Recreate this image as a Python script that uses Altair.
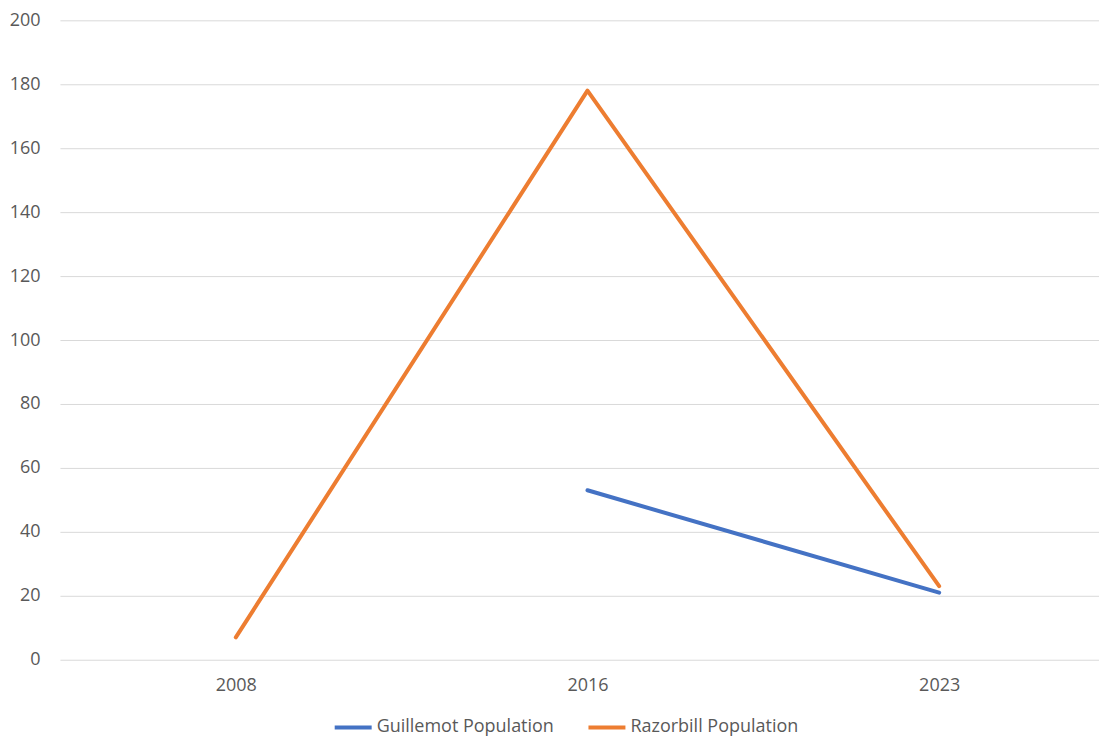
import altair as alt
import pandas as pd

years = ["2008", "2016", "2023"]
guillemot = [None, 53, 21]
razorbill = [7, 178, 23]
series_names = ["Guillemot Population", "Razorbill Population"]
colors = ["#4472C4", "#ED7D31"]

rows = []
for name, vals in zip(series_names, [guillemot, razorbill]):
    for i, (y, v) in enumerate(zip(years, vals)):
        if v is not None:
            rows.append({"Idx": i, "Year": y, "Series": name, "Value": v})
df = pd.DataFrame(rows)

label_expr = " : ".join(
    [f"datum.value == {i} ? '{y}'" for i, y in enumerate(years)]
) + " : ''"

font = "Open Sans"
grey = "#595959"

chart = alt.Chart(df).mark_line(strokeWidth=4, strokeCap="round", strokeJoin="round").encode(
    x=alt.X("Idx:Q",
            scale=alt.Scale(domain=[-0.5, 2.4545], nice=False, zero=False),
            axis=alt.Axis(title=None, labelAngle=0, ticks=False, tickSize=0, domain=False,
                          grid=False, values=list(range(len(years))), labelExpr=label_expr,
                          labelPadding=17, labelFont=font, labelFontSize=18,
                          labelColor=grey)),
    y=alt.Y("Value:Q", scale=alt.Scale(domain=[0, 200], nice=False),
            axis=alt.Axis(title=None, values=list(range(0, 201, 20)), ticks=False, tickSize=0,
                          domain=False, grid=True, gridColor="#d9d9d9", gridWidth=1,
                          labelPadding=20, labelFont=font, labelFontSize=18, labelColor=grey)),
    color=alt.Color("Series:N", scale=alt.Scale(domain=series_names, range=colors),
                    legend=alt.Legend(title=None, orient="none", legendX=273, legendY=687,
                                      direction="horizontal", symbolType="stroke",
                                      symbolSize=1369, symbolStrokeWidth=4,
                                      labelFont=font, labelFontSize=18, labelColor=grey,
                                      labelLimit=400, labelOffset=3, columnPadding=26)),
    detail="Series:N",
).properties(
    width=1040, height=640,
    padding={"left": 1, "top": 3, "right": 0, "bottom": 0},
).configure_view(stroke=None)

chart.save("out.html", embed_options={"renderer": "svg", "actions": False})
